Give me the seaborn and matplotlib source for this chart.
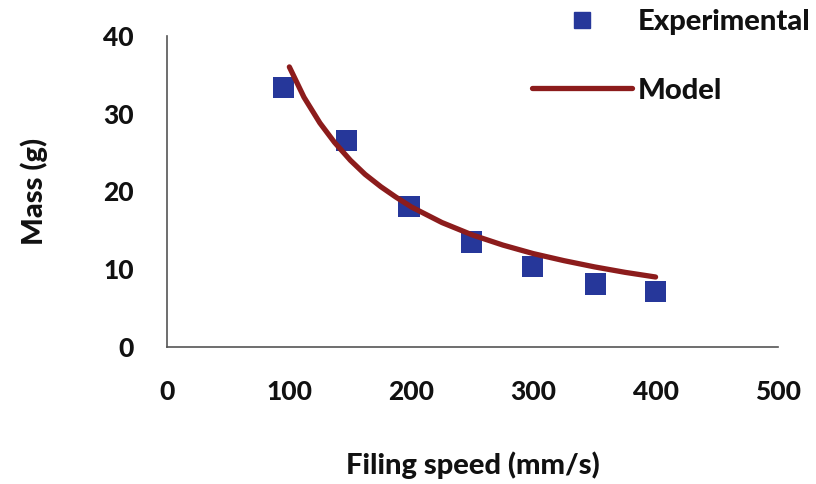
import numpy as np
import pandas as pd
import matplotlib
matplotlib.use("Agg")
import matplotlib.pyplot as plt
import seaborn as sns
from matplotlib.lines import Line2D

# experimental points
exp_speed = [95, 147, 198, 249, 299, 351, 400]
exp_mass = [33.3, 26.6, 18.1, 13.5, 10.4, 8.1, 7.1]

# model curve
model_speed = [100, 112, 125, 137, 150, 162, 175, 187, 200, 225, 250, 275, 300, 325, 350, 375, 400]
model_mass = [36.0, 32.1, 28.8, 26.3, 24.0, 22.2, 20.6, 19.3, 18.0, 16.0, 14.4, 13.1, 12.0, 11.1, 10.3, 9.6, 9.0]

x_ticks = [0, 100, 200, 300, 400, 500]
y_ticks = [0, 10, 20, 30, 40]

sns.set_style("white")
plt.rcParams['font.family'] = ['Lato', 'DejaVu Sans']

blue = "#26379a"
red = "#8c1c1c"

fig = plt.figure(figsize=(8.16, 4.84), dpi=100)
ax = fig.add_axes([0.205, 0.283, 0.748, 0.643])

df_exp = pd.DataFrame({"speed": exp_speed, "mass": exp_mass})
df_mod = pd.DataFrame({"speed": model_speed, "mass": model_mass})

sns.scatterplot(data=df_exp, x="speed", y="mass", marker="s", s=230, color=blue,
                edgecolor="none", ax=ax, zorder=2)
sns.lineplot(data=df_mod, x="speed", y="mass", color=red, linewidth=3.8, ax=ax, zorder=3)

ax.set_xlim(0, 500)
ax.set_ylim(0, 40)
ax.set_xticks(x_ticks)
ax.set_yticks(y_ticks)
for s in ["top", "right"]:
    ax.spines[s].set_visible(False)
for s in ["left", "bottom"]:
    ax.spines[s].set_color("#555555")
    ax.spines[s].set_linewidth(1.2)
ax.tick_params(axis="both", direction="out", length=6, width=1.2, color="#555555",
               labelsize=19, labelcolor="#111111")
for lab in ax.get_xticklabels() + ax.get_yticklabels():
    lab.set_fontweight("black")
ax.tick_params(axis="x", pad=18)
ax.tick_params(axis="y", pad=18)

ax.set_xlabel("Filing speed (mm/s)", fontsize=21, fontweight="black", color="#111111", labelpad=34)
ax.set_ylabel("Mass (g)", fontsize=21, fontweight="black", color="#111111", labelpad=40)

handles = [
    Line2D([], [], marker="s", ls="", color=blue, markersize=11),
    Line2D([], [], color=red, linewidth=3.8),
]
fig.legend(handles, ["Experimental", "Model"], loc="upper right",
           bbox_to_anchor=(1.025, 1.035), frameon=False, labelspacing=1.45,
           handlelength=3.4, handletextpad=0.2, labelcolor="#111111",
           prop={"size": 21, "weight": "black"})

fig.savefig("out.png", dpi=100)
